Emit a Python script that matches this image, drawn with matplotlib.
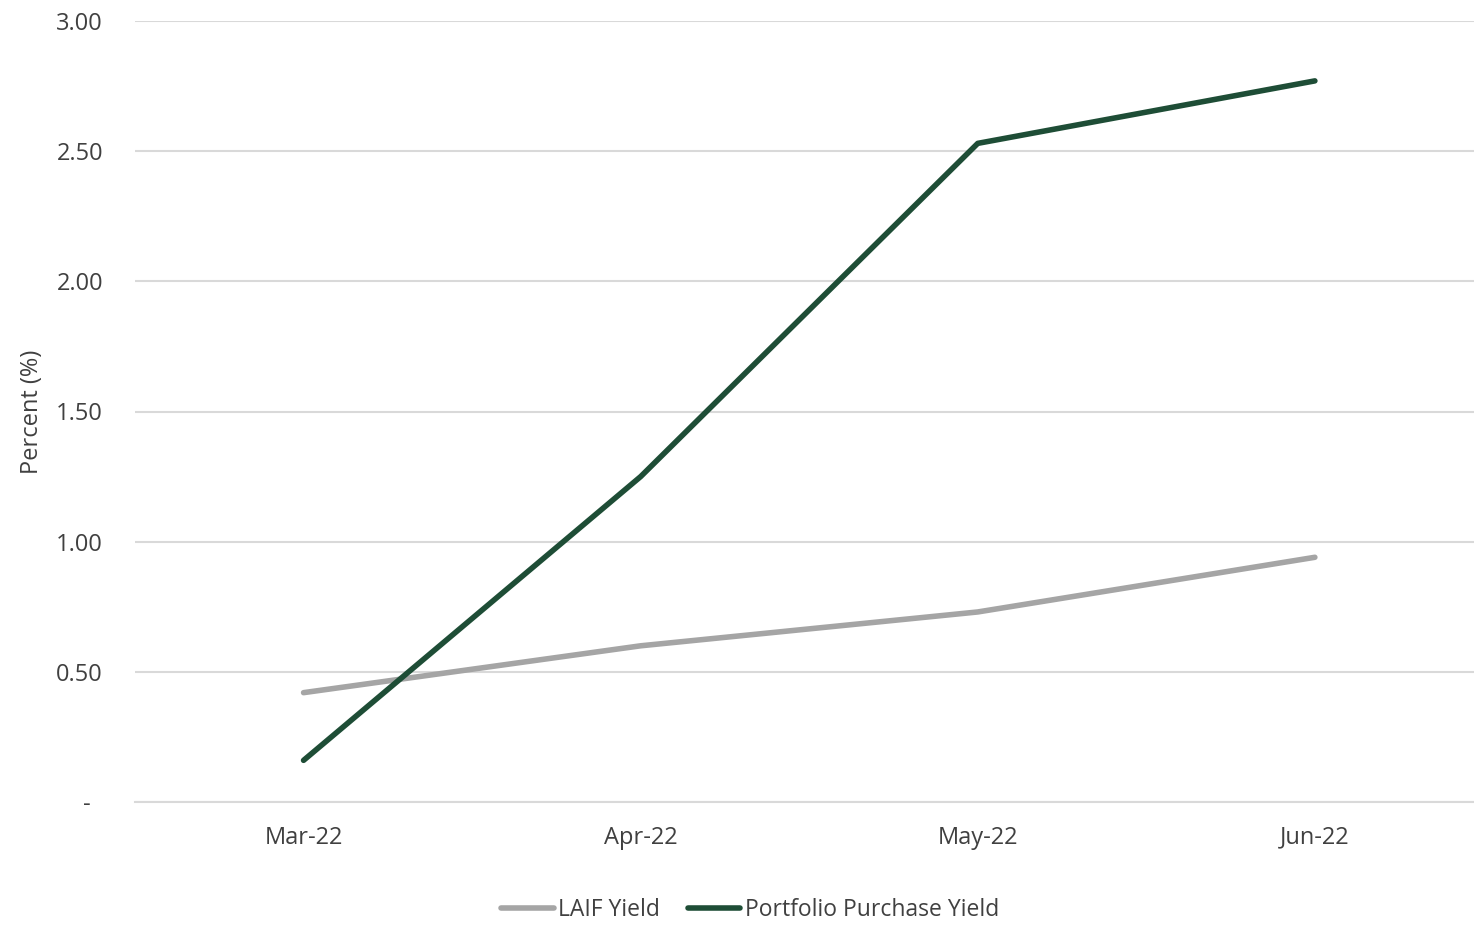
import matplotlib
matplotlib.use("Agg")
import matplotlib.pyplot as plt
from matplotlib.ticker import FuncFormatter

# values
months = ["Mar-22", "Apr-22", "May-22", "Jun-22"]
laif_yield = [0.42, 0.60, 0.73, 0.94]
portfolio_yield = [0.16, 1.25, 2.53, 2.77]
y_ticks = [0, 0.5, 1.0, 1.5, 2.0, 2.5, 3.0]

plt.rcParams['font.family'] = ['Open Sans', 'DejaVu Sans']
text_col = "#404040"

fig = plt.figure(figsize=(14.74, 9.25), dpi=100)
ax = fig.add_axes([135 / 1474, 1 - 802 / 925, (1474 - 135) / 1474, (802 - 21) / 925])

x = list(range(len(months)))
ax.plot(x, laif_yield, color="#A5A5A5", lw=4, solid_capstyle="round", label="LAIF Yield")
ax.plot(x, portfolio_yield, color="#1E4D36", lw=4, solid_capstyle="round",
        label="Portfolio Purchase Yield")

ax.set_xlim(-0.5, 3.472)
ax.set_ylim(0, 3.0)
ax.set_xticks(x)
ax.set_xticklabels(months)
ax.set_yticks(y_ticks)
ax.yaxis.set_major_formatter(FuncFormatter(lambda v, p: "-  " if v == 0 else "%.2f" % v))

ax.grid(axis="y", color="#D9D9D9", lw=1.5)
ax.set_axisbelow(True)
for s in ["top", "right", "left"]:
    ax.spines[s].set_visible(False)
ax.spines["bottom"].set_color("#D9D9D9")
ax.spines["bottom"].set_linewidth(1.5)

ax.tick_params(axis="both", length=0, labelsize=17, colors=text_col)
ax.tick_params(axis="y", pad=23)
ax.tick_params(axis="x", pad=17)
ax.set_ylabel("Percent (%)", fontsize=17, color=text_col)
ax.yaxis.set_label_coords(-0.068, 0.5)

leg = fig.legend(loc="center", bbox_to_anchor=(750 / 1474, 1 - 910 / 925), ncol=2,
                 frameon=False, fontsize=16.5, handlelength=2.3, handletextpad=0.2,
                 columnspacing=1.2)
for t in leg.get_texts():
    t.set_color(text_col)

fig.savefig("out.png", dpi=100)
